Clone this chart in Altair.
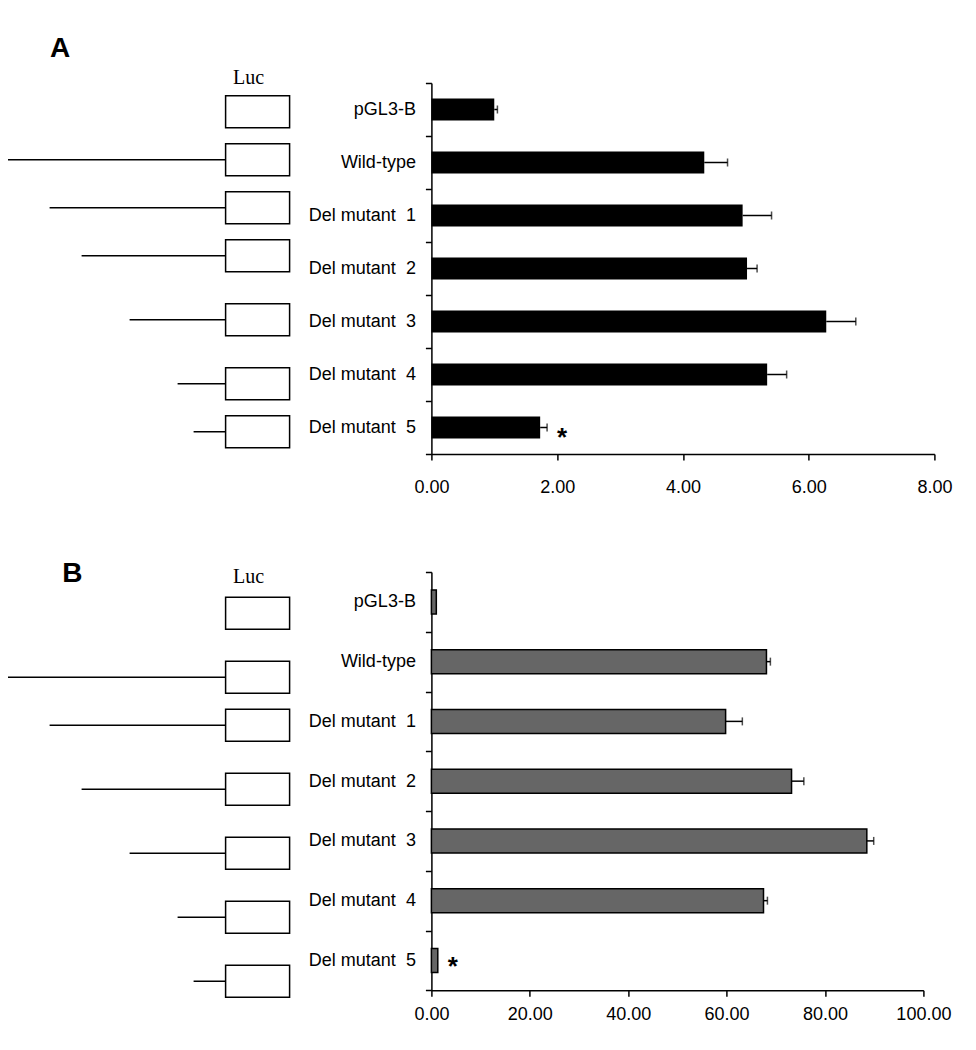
import altair as alt
import pandas as pd

# ---------------- data ----------------
constructs = ["pGL3-B", "Wild-type", "Del mutant\u00a0\u00a01", "Del mutant\u00a0\u00a02",
              "Del mutant\u00a0\u00a03", "Del mutant\u00a0\u00a04", "Del mutant\u00a0\u00a05"]
a_mean = [1.00, 4.34, 4.95, 5.02, 6.28, 5.34, 1.73]
a_err = [0.05, 0.37, 0.46, 0.16, 0.47, 0.31, 0.11]
b_mean = [1.0, 68.1, 59.8, 73.2, 88.5, 67.5, 1.3]
b_err = [0.0, 0.8, 3.4, 2.5, 1.4, 0.8, 0.0]
significant = [False, False, False, False, False, False, True]
# promoter fragment length in diagram units (Luc box = 4 units)
promoter_len = [0, 14, 11, 9, 6, 3, 2]
luc_len = 4
a_slot = [0, 3, 6, 9, 13, 17, 20]
b_slot = [0, 4, 7, 11, 15, 19, 23]
a_ticks = [0, 2, 4, 6, 8]
b_ticks = [0, 20, 40, 60, 80, 100]

FONT = "Liberation Sans"


def bar_panel(mean, err, xmax, ticks, width, height, bar_size, fill, stroke,
              x_lab_pad, star_dy):
    df = pd.DataFrame({"construct": constructs, "mean": mean, "err": err,
                       "sig": significant})
    df["hi"] = df["mean"] + df["err"]
    y = alt.Y("construct:N", sort=constructs, title=None,
              scale=alt.Scale(paddingInner=0, paddingOuter=0),
              axis=alt.Axis(tickBand="extent", labelPadding=10, tickSize=6,
                            labelFontSize=18, labelFont=FONT))
    xscale = alt.Scale(domain=[0, xmax], nice=False, zero=True)
    xaxis = alt.Axis(values=ticks, format=".2f", title=None, tickSize=6,
                     labelFlush=False, labelOverlap=False,
                     labelPadding=x_lab_pad, labelFontSize=18, labelFont=FONT)
    base = alt.Chart(df)
    if stroke:
        bars = base.mark_bar(size=bar_size, fill=fill, stroke=stroke, strokeWidth=1.5)
    else:
        bars = base.mark_bar(size=bar_size, fill=fill)
    bars = bars.encode(x=alt.X("mean:Q", scale=xscale, axis=xaxis), y=y)
    ebase = base.transform_filter("datum.err > 0")
    rule = ebase.mark_rule(color="black", strokeWidth=1.5).encode(
        x=alt.X("mean:Q", scale=xscale, axis=xaxis), x2="hi:Q", y=y)
    cap = ebase.mark_tick(color="black", thickness=1.5, size=8).encode(
        x=alt.X("hi:Q", scale=xscale, axis=xaxis), y=y)
    star = base.transform_filter("datum.sig").mark_text(
        text="*", fontSize=26, fontWeight="bold", font=FONT, align="center",
        baseline="middle", dx=15, dy=star_dy, color="black").encode(
        x=alt.X("hi:Q", scale=xscale, axis=xaxis), y=y)
    return alt.layer(bars, rule, cap, star).properties(width=width, height=height)


def diagram(slots, ylo, height, letter, letter_dx, letter_dy, luc_dy):
    df = pd.DataFrame({"construct": constructs, "slot": slots,
                       "plen": promoter_len})
    df["start"] = -df["plen"]
    df["end"] = 0
    df["box_l"] = 0
    df["box_r"] = luc_len
    df["mid"] = luc_len / 2
    df["lo"] = df["slot"] - 1
    df["hi"] = df["slot"] + 1
    yhi = ylo + height / 16.0
    xs = alt.Scale(domain=[-13.6, luc_len], nice=False, zero=False)
    ys = alt.Scale(domain=[ylo, yhi], nice=False, zero=False, reverse=True)
    base = alt.Chart(df)
    lines = base.transform_filter("datum.plen > 0").mark_rule(
        color="black", strokeWidth=1.5, clip=True).encode(
        x=alt.X("start:Q", scale=xs, axis=None), x2="end:Q",
        y=alt.Y("slot:Q", scale=ys, axis=None))
    boxes = base.mark_rect(fill="white", stroke="black", strokeWidth=1.5).encode(
        x=alt.X("box_l:Q", scale=xs, axis=None), x2="box_r:Q",
        y=alt.Y("lo:Q", scale=ys, axis=None), y2="hi:Q")
    first = alt.Chart(df.iloc[:1])
    luc = first.mark_text(
        text="Luc", font="Liberation Serif", fontSize=20, color="black",
        align="center", baseline="alphabetic", dx=-9, dy=luc_dy).encode(
        x=alt.X("mid:Q", scale=xs, axis=None),
        y=alt.Y("slot:Q", scale=ys, axis=None))
    lab = first.mark_text(
        text=letter, font=FONT, fontSize=28, fontWeight="bold", color="black",
        align="left", baseline="alphabetic", dx=letter_dx, dy=letter_dy).encode(
        x=alt.X("mid:Q", scale=xs, axis=None),
        y=alt.Y("slot:Q", scale=ys, axis=None))
    return alt.layer(lines, boxes, luc, lab).properties(width=281.6, height=height)


hA = 371.0
hB = 418.3
chart = alt.concat(
    diagram(a_slot, -1.8, hA, "A", -207.6, -54.5, -28),
    bar_panel(a_mean, a_err, 8, a_ticks, 503, hA, 22, "black", None, 18, 10),
    diagram(b_slot, -2.58, hB, "B", -195.3, -31, -30),
    bar_panel(b_mean, b_err, 100, b_ticks, 492, hB, 24, "#666666", "black", 9, 7),
    columns=2, spacing={"row": 118, "column": 141.4}, bounds="flush"
).properties(
    padding={"left": 0, "top": 27, "right": 10, "bottom": 5}
).configure_view(stroke=None).configure_axis(
    domainColor="black", tickColor="black", labelColor="black",
    domainWidth=1.5, tickWidth=1.5, grid=False)

chart.save("out.html", embed_options={"renderer": "svg", "actions": False})
